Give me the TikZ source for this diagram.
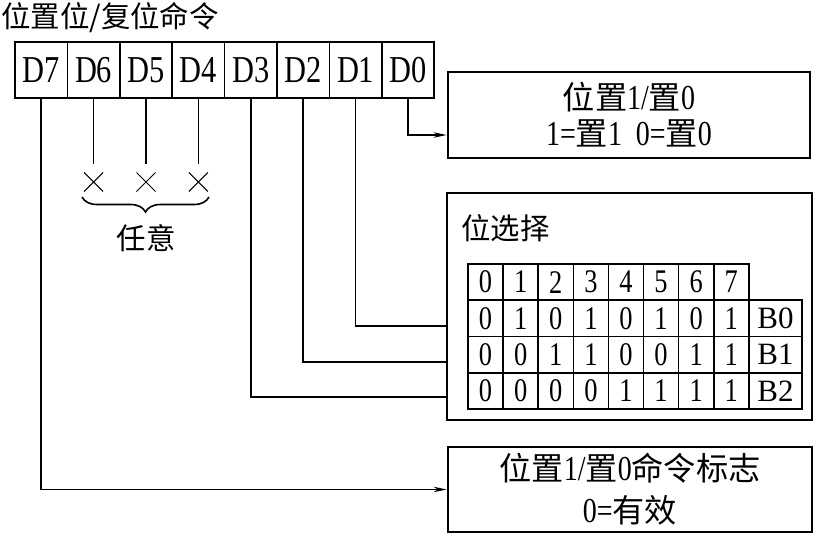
\documentclass[tikz,border=0pt]{standalone}
\usepackage{fontspec}
\setmainfont{Liberation Serif}[FakeStretch=0.8]
\newfontfamily\wide{Liberation Serif}
\newfontfamily\cj{Noto Sans CJK SC}[Scale=0.92]
\usetikzlibrary{arrows.meta,shapes.misc,decorations.pathreplacing}
\begin{document}
\begin{tikzpicture}[x=1pt,y=-1pt,
  font=\fontsize{32}{36}\selectfont,
  regcell/.style={draw, line width=1.6pt, minimum width=52.4pt, minimum height=56pt, inner sep=0pt, font=\fontsize{38}{38}\selectfont},
  tcell/.style={draw, line width=1.6pt, minimum width=35.1pt, minimum height=36.25pt, inner sep=0pt, font=\fontsize{33}{34}\selectfont},
  bcell/.style={tcell, minimum width=53pt, font=\wide\fontsize{31}{34}\selectfont},
  bigbox/.style={draw, line width=2.8pt, inner sep=0pt, align=center, font=\fontsize{35}{37}\selectfont},
  xmark/.style={cross out, draw, line width=1pt, minimum size=18pt, inner sep=0pt},
  conn/.style={line width=1.6pt},
  arr/.style={conn, -{Stealth[length=13pt,width=5.5pt]}},
  plain/.style={inner sep=0pt}
]
\useasboundingbox (0,0) rectangle (815,536);

% title
\node[plain, anchor=west] (title) at (1,18) {\cj 位置位/复位命令};

% register
\foreach \lab [count=\i from 0] in {7,6,5,4,3,2,1,0}
  \node[regcell] (d\lab) at ({15+52.4*(\i+0.5)},70) {D\lab};

% don't-care bits
\foreach \lab in {6,5,4}{
  \node[xmark] (x\lab) at (d\lab.south |- 0,182) {};
  \draw[conn] (d\lab.south) -- ([yshift=9pt]x\lab.north);
}
\draw[conn, decorate, decoration={brace, mirror, amplitude=15pt}] (82,197) -- (209,197);
\node[plain] (ry) at (146,238) {\cj 任意};

% box 1
\node[bigbox, minimum width=362pt, minimum height=86pt] (b1) at (629,115)
  {{\cj 位置}1/{\cj 置}0\\[-1pt]1={\cj 置}1\hspace{14pt}0={\cj 置}0};
\draw[arr] (d0.south) |- ([yshift=-20pt]b1.west);

% box 2
\node[bigbox, minimum width=365pt, minimum height=227pt] (b2) at (629.5,306.5) {};
\node[plain, anchor=west] (wx) at (461,228) {\cj 位选择};
\foreach \c in {0,...,7}
  \node[tcell] (h\c) at ({468+35.1*(\c+0.5)},282.1) {\c};
\foreach \r/\bits in {0/{0,1,0,1,0,1,0,1},1/{0,0,1,1,0,0,1,1},2/{0,0,0,0,1,1,1,1}}{
  \foreach \v [count=\c from 0] in \bits
    \node[tcell] (t\r\c) at ({468+35.1*(\c+0.5)},{264+36.25*(\r+1.5)}) {\v};
  \node[bcell] (B\r) at (775.5,{264+36.25*(\r+1.5)}) {B\r};
}
\draw[conn] (d1.south) |- ([yshift=-19.5pt]b2.west);
\draw[conn] (d2.south) |- ([yshift=-55.5pt]b2.west);
\draw[conn] (d3.south) |- ([yshift=-90.5pt]b2.west);

% box 3
\node[bigbox, minimum width=364pt, minimum height=85pt] (b3) at (630,489.5)
  {{\cj 位置}1/{\cj 置}0{\cj 命令标志}\\[5pt]0={\cj 有效}};
\draw[arr] (d7.south) |- (b3.west);
\end{tikzpicture}
\end{document}
